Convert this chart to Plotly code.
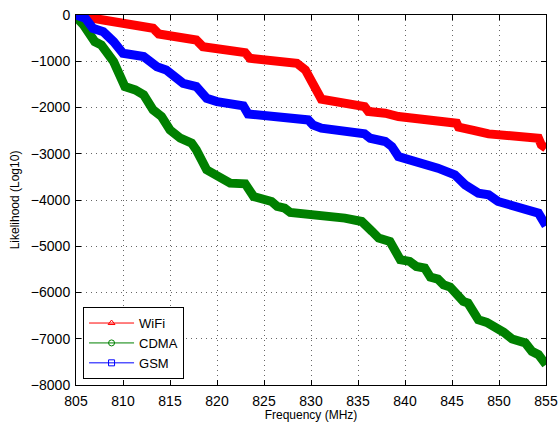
import plotly.graph_objects as go

# Frequency (MHz) and log10 likelihood values
wifi_f = [805.0, 805.1, 807.9, 810.0, 813.2, 813.8, 817.8, 818.5, 820.85, 823.0, 823.5,
          828.5, 829.4, 830.4, 831.1, 835.7, 836.1, 837.9, 839.3, 845.5, 845.7, 847.4,
          848.9, 854.2, 854.5, 855.0]
wifi_v = [0, -10, -108, -194, -288, -410, -540, -684, -770, -813, -936,
          -1044, -1188, -1620, -1822, -1980, -2088, -2124, -2196, -2340, -2425, -2498,
          -2570, -2664, -2808, -2880]

cdma_f = [805.0, 805.8, 807.0, 807.7, 809.0, 810.2, 811.3, 812.2, 813.2, 814.1, 815.0,
          816.1, 817.3, 817.8, 818.9, 820.0, 820.9, 821.4, 823.0, 823.9, 825.8, 826.4,
          827.2, 827.8, 833.6, 835.4, 836.5, 837.2, 838.4, 839.5, 840.5, 841.2, 842.1,
          842.7, 843.5, 844.1, 844.8, 845.5, 846.2, 846.7, 847.8, 848.7, 849.4, 849.9,
          850.5, 851.4, 852.8, 853.5, 854.2, 855.0]
cdma_v = [-40, -216, -576, -648, -1008, -1548, -1620, -1728, -2052, -2196, -2484,
          -2664, -2772, -2916, -3348, -3492, -3560, -3636, -3650, -3924, -4032, -4140,
          -4176, -4270, -4392, -4464, -4680, -4824, -4896, -5292, -5328, -5436, -5472,
          -5666, -5709, -5832, -5882, -6048, -6192, -6228, -6588, -6645, -6732, -6746,
          -6861, -7005, -7091, -7272, -7344, -7560]

gsm_f = [805.0, 806.0, 806.8, 807.9, 809.0, 810.0, 812.2, 813.6, 814.6, 815.7, 816.4,
         817.8, 818.9, 820.0, 820.85, 822.8, 823.3, 829.7, 830.2, 831.1, 835.7, 836.3,
         837.9, 838.6, 839.3, 840.7, 842.1, 843.5, 845.3, 846.4, 847.8, 848.9, 849.9,
         851.4, 853.5, 854.2, 855.0]
gsm_v = [0, -72, -288, -360, -576, -828, -900, -1116, -1188, -1404, -1476,
         -1548, -1800, -1872, -1908, -1966, -2138, -2268, -2376, -2448, -2570, -2664,
         -2736, -2844, -3060, -3132, -3240, -3312, -3456, -3672, -3852, -3888, -4032,
         -4104, -4212, -4284, -4557]

x_ticks = [805, 810, 815, 820, 825, 830, 835, 840, 845, 850, 855]
y_ticks = [0, -1000, -2000, -3000, -4000, -5000, -6000, -7000, -8000]

series = [
    ("WiFi", wifi_f, wifi_v, "#FF0000", "triangle-up-open"),
    ("CDMA", cdma_f, cdma_v, "#008000", "circle-open"),
    ("GSM", gsm_f, gsm_v, "#0000FF", "square-open"),
]

fig = go.Figure()
for name, xs, ys, col, sym in series:
    fig.add_trace(go.Scatter(x=xs, y=ys, mode="lines", name=name, showlegend=False,
                             line=dict(color=col, width=9, shape="linear")))
for name, xs, ys, col, sym in series:
    fig.add_trace(go.Scatter(x=[None], y=[None], mode="lines+markers", name=name,
                             line=dict(color=col, width=1),
                             marker=dict(symbol=sym, size=6, color=col,
                                         line=dict(color=col, width=1))))

font_family = "Liberation Sans, Arial, Helvetica, sans-serif"
axis_common = dict(
    showline=True, linecolor="black", linewidth=1, mirror="ticks",
    ticks="inside", ticklen=5, tickcolor="black", automargin=False,
    showgrid=True, gridcolor="#666666", griddash="1px,4px", gridwidth=1,
    zeroline=False, tickfont=dict(size=14, color="black", family=font_family),
)

fig.update_layout(
    width=558, height=422,
    margin=dict(l=76, r=12, t=15, b=37),
    paper_bgcolor="white", plot_bgcolor="white",
    font=dict(family=font_family, color="black"),
    xaxis=dict(range=[805, 855], tickvals=x_ticks, ticklabelstandoff=3,
               title=dict(text="Frequency (MHz)", font=dict(size=12), standoff=2),
               **axis_common),
    yaxis=dict(range=[-8000, 0], tickvals=y_ticks, ticklabelstandoff=2,
               title=dict(text="Likelihood (Log10)", font=dict(size=12), standoff=8),
               **axis_common),
    legend=dict(x=0.015, y=0.016, xanchor="left", yanchor="bottom",
                bgcolor="white", bordercolor="black", borderwidth=1,
                font=dict(size=13, family=font_family), tracegroupgap=0,
                itemwidth=45),
    showlegend=True,
)

fig.write_html("out.html")
